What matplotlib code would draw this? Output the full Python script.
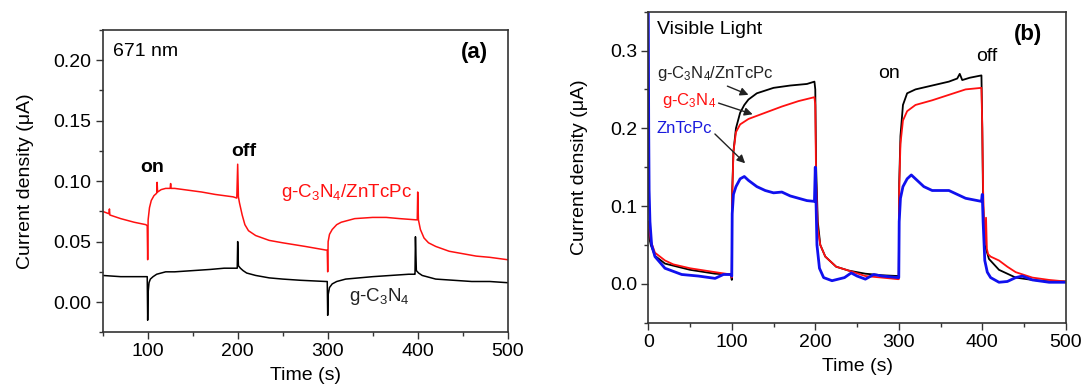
import matplotlib.pyplot as plt
from matplotlib.ticker import MultipleLocator

plt.rcParams['font.family'] = ['Liberation Sans', 'DejaVu Sans']
plt.rcParams['font.size'] = 13.5
plt.rcParams['mathtext.fontset'] = 'custom'
plt.rcParams['mathtext.rm'] = 'Liberation Sans'
plt.rcParams['mathtext.it'] = 'Liberation Sans'
plt.rcParams['mathtext.default'] = 'regular'

# panel (a), 671 nm
t_a_red = [50, 57, 57.5, 58, 70, 85, 98, 99.5, 100, 100.5, 102, 104, 107, 110, 110.5, 111, 115, 120, 125, 125.5,
           126, 130, 140, 150, 160, 175, 185, 195, 199, 200, 200.8, 202, 205, 208, 212, 220, 235, 250, 275,
           298, 299.5, 300, 300.5, 302, 305, 310, 315, 330, 350, 365, 380, 398, 399.5, 400, 400.8, 403, 407,
           412, 420, 435, 450, 465, 480, 500]
v_a_red = [0.075, 0.073, 0.077, 0.072, 0.069, 0.066, 0.064, 0.063, 0.035, 0.068, 0.078, 0.084, 0.088, 0.090,
           0.099, 0.091, 0.093, 0.094, 0.094, 0.098, 0.094, 0.094, 0.093, 0.092, 0.091, 0.089, 0.088, 0.087,
           0.086, 0.114, 0.087, 0.082, 0.072, 0.064, 0.059, 0.055, 0.051, 0.049, 0.046, 0.043, 0.043, 0.025,
           0.050, 0.056, 0.060, 0.064, 0.066, 0.069, 0.070, 0.070, 0.069, 0.068, 0.068, 0.091, 0.068, 0.060,
           0.053, 0.049, 0.046, 0.042, 0.040, 0.038, 0.037, 0.035]
t_a_blk = [50, 70, 90, 99.5, 100, 100.5, 101.5, 103, 106, 110, 120, 130, 150, 170, 185, 198, 199.5, 200, 200.8,
           203, 206, 210, 220, 235, 250, 270, 298, 299.5, 300, 300.5, 302, 305, 310, 320, 335, 350, 370,
           390, 396, 397, 397.5, 398.5, 401, 405, 410, 420, 440, 460, 480, 500]
v_a_blk = [0.022, 0.021, 0.021, 0.021, -0.015, 0.008, 0.016, 0.019, 0.021, 0.023, 0.025, 0.025, 0.026, 0.027,
           0.028, 0.028, 0.028, 0.050, 0.030, 0.028, 0.026, 0.024, 0.022, 0.020, 0.019, 0.018, 0.017,
           0.017, -0.011, 0.006, 0.012, 0.015, 0.017, 0.019, 0.020, 0.021, 0.022, 0.023, 0.023, 0.023,
           0.054, 0.026, 0.024, 0.022, 0.021, 0.019, 0.018, 0.017, 0.017, 0.016]

# panel (b), visible light
t_b_blk = [0, 1, 3, 8, 20, 50, 80, 99, 100, 100.5, 102, 105, 110, 115, 120, 130, 150, 170, 190, 199,
           200, 201, 203, 206, 212, 225, 240, 260, 280, 299, 300, 300.5, 302, 305, 310, 320, 340, 360,
           370, 373, 376, 385, 399, 400, 401, 403, 408, 420, 440, 460, 480, 500]
v_b_blk = [0.07, 0.06, 0.05, 0.036, 0.026, 0.018, 0.013, 0.012, 0.005, 0.12, 0.17, 0.20, 0.22, 0.23, 0.237,
           0.245, 0.252, 0.255, 0.257, 0.260, 0.25, 0.15, 0.08, 0.05, 0.035, 0.022, 0.017, 0.013, 0.011,
           0.010, 0.008, 0.13, 0.19, 0.23, 0.245, 0.250, 0.255, 0.260, 0.264, 0.270, 0.262, 0.265, 0.268,
           0.2, 0.1, 0.05, 0.032, 0.018, 0.008, 0.005, 0.003, 0.003]
t_b_red = [0, 1, 3, 8, 20, 30, 50, 80, 99, 100, 100.5, 102, 105, 110, 120, 140, 160, 180, 199, 200, 201,
           203, 206, 212, 225, 240, 260, 280, 299, 300, 300.5, 302, 305, 310, 320, 340, 360, 380, 399,
           400, 401, 403, 404.5, 405.5, 407, 410, 420, 430, 440, 460, 480, 500]
v_b_red = [0.08, 0.07, 0.055, 0.04, 0.03, 0.025, 0.02, 0.015, 0.012, 0.008, 0.11, 0.17, 0.195, 0.205, 0.212,
           0.220, 0.228, 0.235, 0.240, 0.23, 0.13, 0.07, 0.05, 0.035, 0.022, 0.017, 0.010, 0.008, 0.006,
           0.006, 0.12, 0.18, 0.21, 0.222, 0.230, 0.236, 0.243, 0.250, 0.252, 0.2, 0.12, 0.05, 0.085,
           0.045, 0.038, 0.035, 0.030, 0.022, 0.015, 0.008, 0.005, 0.003]
t_b_blu = [0, 0.5, 1, 2, 4, 8, 20, 40, 60, 80, 90, 99, 100, 100.5, 102, 105, 110, 115, 120, 130, 140,
           150, 160, 170, 180, 190, 199, 200, 201, 202, 205, 210, 220, 235, 243, 250, 260, 270, 280,
           299, 300, 300.5, 302, 305, 310, 315, 320, 330, 340, 360, 370, 380, 399, 400, 401, 403, 406,
           410, 420, 430, 440, 448, 460, 480, 500]
v_b_blu = [0.36, 0.2, 0.12, 0.08, 0.05, 0.035, 0.02, 0.012, 0.010, 0.007, 0.012, 0.012, 0.010, 0.09,
           0.115, 0.125, 0.135, 0.138, 0.133, 0.125, 0.120, 0.117, 0.118, 0.113, 0.110, 0.107, 0.106,
           0.15, 0.10, 0.05, 0.02, 0.008, 0.004, 0.008, 0.014, 0.010, 0.006, 0.012, 0.010, 0.008, 0.008,
           0.08, 0.11, 0.125, 0.135, 0.140, 0.135, 0.125, 0.120, 0.120, 0.115, 0.110, 0.106, 0.115,
           0.08, 0.03, 0.015, 0.008, 0.002, 0.003, 0.008, 0.010, 0.005, 0.002, 0.002]

fig = plt.figure(figsize=(10.83, 3.88), dpi=100)
ax1 = fig.add_axes([0.0948, 0.1436, 0.374, 0.7791])
ax2 = fig.add_axes([0.5986, 0.1683, 0.3855, 0.8017])

ax1.plot(t_a_red, v_a_red, color='#ff1010', lw=1.1)
ax1.plot(t_a_blk, v_a_blk, color='black', lw=1.1)
ax1.set_xlim(50, 500)
ax1.set_ylim(-0.025, 0.225)
ax1.xaxis.set_major_locator(MultipleLocator(100))
ax1.xaxis.set_minor_locator(MultipleLocator(50))
ax1.yaxis.set_major_locator(MultipleLocator(0.05))
ax1.yaxis.set_minor_locator(MultipleLocator(0.025))
ax1.yaxis.set_major_formatter(plt.FormatStrFormatter('%.2f'))
ax1.set_xlabel('Time (s)', labelpad=5, fontsize=14)
ax1.set_ylabel('Current density (\u03bcA)', labelpad=14, fontsize=14)
ax1.text(62, 0.207, '671 nm', fontsize=14, va='center')
ax1.text(463, 0.206, '(a)', fontsize=16, fontweight='bold', ha='center', va='center')
ax1.text(104.5, 0.111, 'on', fontsize=14, fontweight='bold', ha='center', va='center')
ax1.text(207, 0.1247, 'off', fontsize=14, fontweight='bold', ha='center', va='center')
ax1.text(321, 0.091, 'g-C$_3$N$_4$/ZnTcPc', color='#ff1010', fontsize=13.5, ha='center', va='center')
ax1.text(357, 0.0046, 'g-C$_3$N$_4$', color='#222222', fontsize=13.5, ha='center', va='center')

ax2.plot(t_b_blk, v_b_blk, color='black', lw=1.3)
ax2.plot(t_b_red, v_b_red, color='#ff1010', lw=1.3)
ax2.plot(t_b_blu, v_b_blu, color='#1010ee', lw=2.0)
ax2.set_xlim(0, 500)
ax2.set_ylim(-0.05, 0.35)
ax2.xaxis.set_major_locator(MultipleLocator(100))
ax2.xaxis.set_minor_locator(MultipleLocator(50))
ax2.yaxis.set_major_locator(MultipleLocator(0.1))
ax2.yaxis.set_minor_locator(MultipleLocator(0.05))
ax2.yaxis.set_major_formatter(plt.FormatStrFormatter('%.1f'))
ax2.set_xlabel('Time (s)', labelpad=5, fontsize=14)
ax2.set_ylabel('Current density (\u03bcA)', labelpad=16, fontsize=14)
ax2.text(10, 0.327, 'Visible Light', fontsize=14, va='center')
ax2.text(455, 0.32, '(b)', fontsize=16, fontweight='bold', ha='center', va='center')
ax2.text(288, 0.271, 'on', fontsize=14, ha='center', va='center')
ax2.text(405, 0.292, 'off', fontsize=14, ha='center', va='center')
ax2.annotate('g-C$_3$N$_4$/ZnTcPc', xy=(120, 0.243), xytext=(10, 0.27), fontsize=12, color='#222222',
             va='center', arrowprops=dict(arrowstyle='-|>', color='#222222', lw=1.0, shrinkA=0, shrinkB=0,
                                          relpos=(0.55, 0.0)))
ax2.annotate('g-C$_3$N$_4$', xy=(125, 0.218), xytext=(16, 0.236), fontsize=12, color='#ff1010',
             va='center', arrowprops=dict(arrowstyle='-|>', color='#222222', lw=1.0, shrinkA=0, shrinkB=0,
                                          relpos=(1.0, 0.4)))
ax2.annotate('ZnTcPc', xy=(116, 0.155), xytext=(10, 0.200), fontsize=12, color='#1a1add',
             va='center', arrowprops=dict(arrowstyle='-|>', color='#222222', lw=1.0, shrinkA=0, shrinkB=0,
                                          relpos=(1.0, 0.3)))

for ax in (ax1, ax2):
    ax.tick_params(which='both', direction='out', top=False, right=False, labelsize=14, width=1.0,
                   color='#333333')
    ax.tick_params(which='major', length=5, pad=3)
    ax.tick_params(which='minor', length=3)
    for s in ax.spines.values():
        s.set_linewidth(1.2)
        s.set_color('#333333')

fig.savefig('out.png', dpi=100)
